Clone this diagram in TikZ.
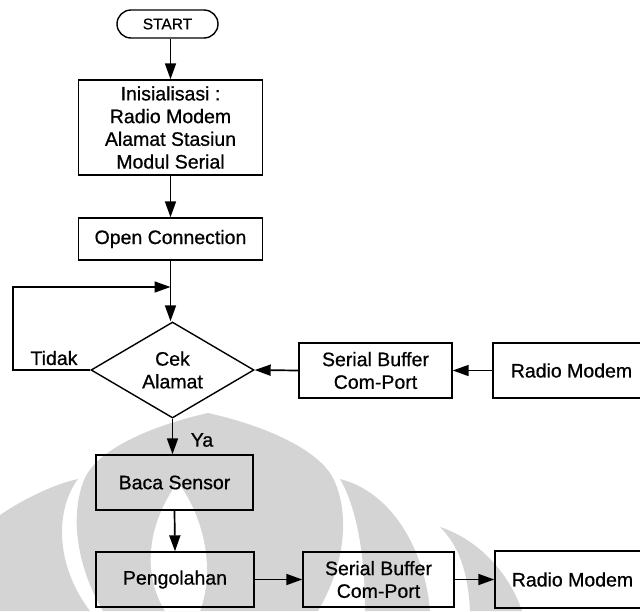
\documentclass[tikz,border=0pt]{standalone}
\usepackage{fontspec}
\setmainfont{Liberation Sans}[FakeBold=0.7]
\usetikzlibrary{shapes.geometric,shapes.misc,arrows.meta}
\definecolor{wm}{gray}{0.83}
\tikzset{
  box/.style={draw, line width=1.4pt, rectangle, inner sep=0pt, align=center,
    minimum height=55pt, font=\fontsize{19.5}{22.7}\selectfont},
  term/.style={draw, line width=1.4pt, rounded rectangle, inner sep=0pt,
    minimum width=101pt, minimum height=28pt, font=\fontsize{15.5}{18}\selectfont},
  decision/.style={draw, line width=1.4pt, diamond, aspect=1.7, inner sep=0pt,
    minimum width=163pt, minimum height=96pt, align=center,
    font=\fontsize{19.5}{22.7}\selectfont},
  lbl/.style={inner sep=0pt, font=\fontsize{19.5}{22.7}\selectfont},
  arr/.style={line width=1.7pt, -{Triangle[length=16pt,width=11pt]}},
  ln/.style={line width=1.7pt}
}
\begin{document}
\begin{tikzpicture}[x=1pt,y=-1pt]
\useasboundingbox (0,0) rectangle (640,611);
% watermark
\fill[wm] (208,413) .. controls (150,426) and (96,450) .. (84,480)
  .. controls (70,515) and (76,565) .. (103,611) -- (318,611)
  .. controls (345,565) and (350,515) .. (334,480)
  .. controls (320,450) and (266,426) .. (208,413) -- cycle;
\fill[white] (178,482) .. controls (150,520) and (140,570) .. (165,611) -- (200,611)
  .. controls (215,570) and (205,520) .. (178,482) -- cycle;
\fill[wm] (0,515) .. controls (25,498) and (55,484) .. (78,479)
  .. controls (55,510) and (55,565) .. (90,611) -- (0,611) -- cycle;
\fill[wm] (340,479) .. controls (392,492) and (425,550) .. (430,611) -- (365,611)
  .. controls (365,560) and (358,510) .. (340,479) -- cycle;
\fill[wm] (440,527) .. controls (480,540) and (510,575) .. (522,611) -- (470,611)
  .. controls (468,570) and (458,545) .. (440,527) -- cycle;

% nodes
\node[term] (start) at (167.5,24) {START};
\node[box, minimum width=184pt, minimum height=95pt] (init) at (170.5,127.5)
  {Inisialisasi :\\Radio Modem\\Alamat Stasiun\\Modul Serial};
\node[box, minimum width=184pt, minimum height=42pt] (open) at (170.5,239) {Open Connection};
\node[decision] (dia) at (172.5,370) {Cek\\Alamat};
\node[box, minimum width=153pt] (sb1) at (375.5,370.5) {Serial Buffer\\Com-Port};
\node[box, minimum width=157pt] (rm1) at (571.5,370.5) {Radio Modem};
\node[box, minimum width=157pt] (baca) at (174.5,482.5) {Baca Sensor};
\node[box, minimum width=158pt] (peng) at (175,579.5) {Pengolahan};
\node[box, minimum width=151pt] (sb2) at (378.5,579.5) {Serial Buffer\\Com-Port};
\node[box, minimum width=155pt, minimum height=57pt] (rm2) at (572.5,579.5) {Radio Modem};
\node[lbl] (tidak) at (54,358) {Tidak};
\node[lbl] (ya) at (202,440) {Ya};
\coordinate (j) at (170.5,287);
\coordinate (lc1) at (13,370);
\coordinate (lc2) at (13,287);

% connectors
\draw[arr] (init.north |- start.south) -- (init.north);
\draw[arr] (init.south) -- (open.north);
\draw[arr] (open.south) -- (open.south |- dia.north);
\draw[arr] (dia.west) -- (lc1) -- (lc2) -- (j);
\draw[arr] (rm1.west) -- (sb1.east);
\draw[arr] (sb1.west) -- (dia.east);
\draw[arr] (dia.south) -- (dia.south |- baca.north);
\draw[arr] (baca.south) -- (peng.north);
\draw[arr] (peng.east) -- (sb2.west);
\draw[arr] (sb2.east) -- (rm2.west);
\end{tikzpicture}
\end{document}
